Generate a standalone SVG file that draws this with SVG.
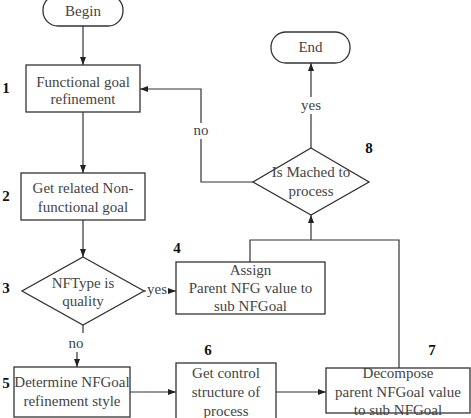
<svg xmlns="http://www.w3.org/2000/svg" width="471" height="418" viewBox="0 0 471 418">
<defs>
<marker id="ah" viewBox="0 0 8 6" refX="8" refY="3" markerWidth="8" markerHeight="6" markerUnits="userSpaceOnUse" orient="auto">
<path d="M0,0 L8,3 L0,6 Z" fill="#222"/>
</marker>
<style>
.s{fill:#fff;stroke:#333;stroke-width:1.3}
text{font-family:"Liberation Serif","Times New Roman","DejaVu Serif",serif}
.t{font-size:15px;fill:#444;text-anchor:middle}
.n{font-size:15px;font-weight:bold;fill:#111;text-anchor:middle}
.c{fill:none;stroke:#333;stroke-width:1.2}
.ca{fill:none;stroke:#333;stroke-width:1.2;marker-end:url(#ah)}
</style>
</defs>
<rect width="471" height="418" fill="#fff"/>
<g id="connectors">
<path class="ca" d="M83,26 V65"/>
<path class="ca" d="M83,112 V173"/>
<path class="ca" d="M83,220 V257"/>
<path class="ca" d="M144,291 H176"/>
<path class="c" d="M83,325 V333"/>
<path class="ca" d="M77,352 V367"/>
<path class="ca" d="M130,392 H176"/>
<path class="ca" d="M276,392 H326"/>
<path class="c" d="M250,262 V240 H399 V368"/>
<path class="ca" d="M311,240 V215"/>
<path class="ca" d="M311,148 V63"/>
<path class="ca" d="M253,182 H201 V89 H140"/>
<rect x="296" y="97" width="30" height="17" fill="#fff"/>
<text class="t" x="311" y="110">yes</text>
<rect x="190" y="123" width="22" height="16" fill="#fff"/>
<text class="t" x="201" y="135">no</text>
<rect x="146" y="283" width="22" height="14" fill="#fff"/>
<text class="t" x="157" y="294">yes</text>
<text class="t" x="76" y="348">no</text>
</g>
<g id="begin">
<rect class="s" x="43" y="-5" width="80" height="31" rx="15"/>
<text class="t" x="83" y="16">Begin</text>
</g>
<g id="end">
<rect class="s" x="271" y="32" width="79" height="31" rx="15"/>
<text class="t" x="310.5" y="52">End</text>
</g>
<g id="n1">
<rect class="s" x="26" y="65" width="114" height="47"/>
<text class="t" x="83" y="87">Functional goal</text>
<text class="t" x="83" y="104">refinement</text>
<text class="n" x="6" y="93">1</text>
</g>
<g id="n2">
<rect class="s" x="21" y="173" width="124" height="47"/>
<text class="t" x="83" y="193">Get related Non-</text>
<text class="t" x="83" y="212">functional  goal</text>
<text class="n" x="6" y="201">2</text>
</g>
<g id="n3">
<polygon class="s" points="83,257 144,291 83,325 22,291"/>
<text class="t" x="83" y="288">NFType is</text>
<text class="t" x="83" y="306">quality</text>
<text class="n" x="6" y="293">3</text>
</g>
<g id="n4">
<rect class="s" x="176" y="262" width="149" height="52"/>
<text class="t" x="250.5" y="275">Assign</text>
<text class="t" x="250.5" y="293">Parent NFG value to</text>
<text class="t" x="250.5" y="311">sub NFGoal</text>
<text class="n" x="177" y="253">4</text>
</g>
<g id="n5">
<rect class="s" x="14" y="367" width="116" height="50"/>
<text class="t" x="72" y="387">Determine NFGoal</text>
<text class="t" x="72" y="406">refinement style</text>
<text class="n" x="6" y="388">5</text>
</g>
<g id="n6">
<rect class="s" x="176" y="363" width="100" height="60"/>
<text class="t" x="226" y="378">Get control</text>
<text class="t" x="226" y="397">structure of</text>
<text class="t" x="226" y="416">process</text>
<text class="n" x="208" y="355">6</text>
</g>
<g id="n7">
<rect class="s" x="326" y="368" width="144" height="45"/>
<text class="t" x="398" y="378">Decompose</text>
<text class="t" x="398" y="397">parent NFGoal value</text>
<text class="t" x="398" y="415">to sub NFGoal</text>
<text class="n" x="432" y="355">7</text>
</g>
<g id="n8">
<polygon class="s" points="311,148 369,182 311,215 253,182"/>
<text class="t" x="311" y="177">Is Mached to</text>
<text class="t" x="311" y="196">process</text>
<text class="n" x="369" y="153">8</text>
</g>
</svg>
